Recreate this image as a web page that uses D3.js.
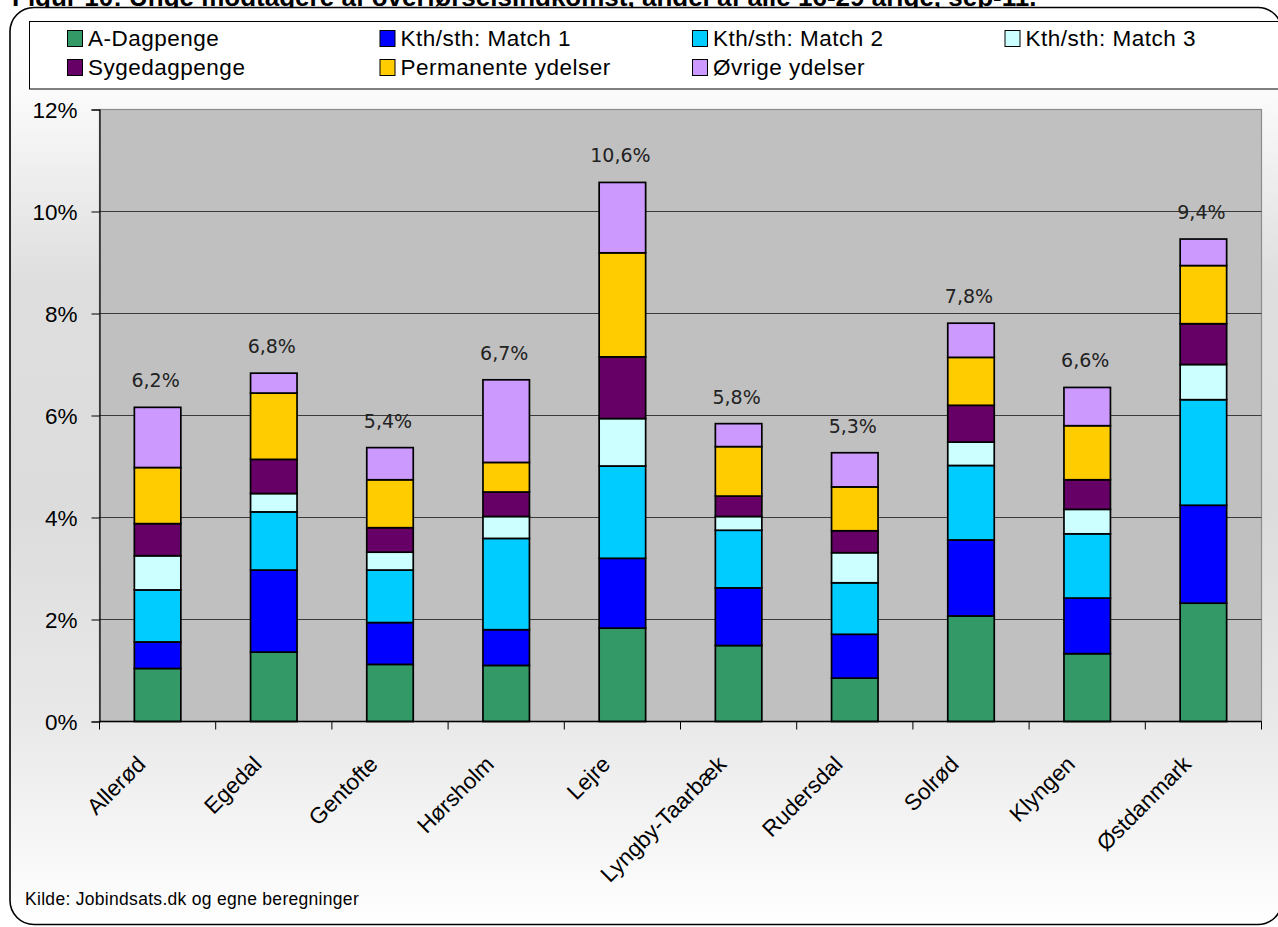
<!DOCTYPE html>
<html>
<head>
<meta charset="utf-8">
<script src="https://cdn.jsdelivr.net/npm/d3@7/dist/d3.min.js"></script>
<style>
  html, body { margin: 0; padding: 0; background: #ffffff; overflow: hidden; }
  svg { display: block; }
</style>
</head>
<body>
<svg id="chart" width="1278" height="927"></svg>
<script>
// ---------------- DATA ----------------
const titleText = "Figur 10: Unge modtagere af overførselsindkomst, andel af alle 16-29 årige, sep-11.";
const sourceText = "Kilde: Jobindsats.dk og egne beregninger";

const categories = ["Allerød", "Egedal", "Gentofte", "Hørsholm", "Lejre",
                    "Lyngby-Taarbæk", "Rudersdal", "Solrød", "Klyngen", "Østdanmark"];

const seriesNames = ["A-Dagpenge", "Kth/sth: Match 1", "Kth/sth: Match 2", "Kth/sth: Match 3",
                     "Sygedagpenge", "Permanente ydelser", "Øvrige ydelser"];

const aDagpenge   = [1.04, 1.36, 1.12, 1.10, 1.83, 1.49, 0.85, 2.07, 1.33, 2.32];
const match1      = [0.52, 1.61, 0.82, 0.70, 1.37, 1.13, 0.86, 1.49, 1.09, 1.92];
const match2      = [1.02, 1.14, 1.03, 1.79, 1.81, 1.13, 1.01, 1.46, 1.26, 2.07];
const match3      = [0.67, 0.36, 0.35, 0.43, 0.93, 0.27, 0.59, 0.46, 0.48, 0.69];
const sygedagpenge= [0.63, 0.67, 0.48, 0.48, 1.21, 0.40, 0.43, 0.72, 0.58, 0.80];
const permanente  = [1.10, 1.30, 0.94, 0.58, 2.04, 0.97, 0.86, 0.94, 1.06, 1.14];
const ovrige      = [1.18, 0.39, 0.63, 1.62, 1.38, 0.45, 0.67, 0.67, 0.75, 0.52];

const totalLabels = ["6,2%", "6,8%", "5,4%", "6,7%", "10,6%", "5,8%", "5,3%", "7,8%", "6,6%", "9,4%"];

const yTicks = [0, 2, 4, 6, 8, 10, 12];
const yTickLabels = ["0%", "2%", "4%", "6%", "8%", "10%", "12%"];

const seriesColors = ["#339966", "#0000FF", "#00CCFF", "#CCFFFF", "#660066", "#FFCC00", "#CC99FF"];

// ---------------- BUILD TABLE ----------------
const seriesValues = [aDagpenge, match1, match2, match3, sygedagpenge, permanente, ovrige];
const table = categories.map((c, i) => {
  const row = { cat: c };
  seriesNames.forEach((s, j) => row[s] = seriesValues[j][i]);
  return row;
});
const stacked = d3.stack().keys(seriesNames)(table);

// ---------------- LAYOUT ----------------
const svg = d3.select("#chart");
const plot = { left: 99.5, right: 1261.5, top: 109.5, bottom: 721.5 };
const FONT = "'Liberation Sans', Arial, sans-serif";

const defs = svg.append("defs");
const grad = defs.append("linearGradient").attr("id", "bgGrad")
  .attr("x1", 0).attr("y1", 0).attr("x2", 0).attr("y2", 1);
[[0, "#ffffff"], [0.09, "#fbfbfb"], [0.3, "#dedede"], [0.55, "#dcdcdc"], [0.78, "#e9e9e9"], [1, "#ffffff"]]
  .forEach(([o, c]) => grad.append("stop").attr("offset", o).attr("stop-color", c));

// Title (partially cut off at top, as in the reference)
svg.append("text")
  .attr("x", 12).attr("y", 6)
  .attr("font-family", FONT).attr("font-weight", "bold").attr("font-size", 26)
  .attr("fill", "#000")
  .text(titleText);

// Outer rounded frame
svg.append("rect")
  .attr("x", 10).attr("y", 7.5).attr("width", 1272).attr("height", 917)
  .attr("rx", 24).attr("ry", 24)
  .attr("fill", "url(#bgGrad)").attr("stroke", "#000").attr("stroke-width", 1.6);

// Legend box
svg.append("rect")
  .attr("x", 29.5).attr("y", 21.5).attr("width", 1260).attr("height", 67.5)
  .attr("fill", "#ffffff").attr("stroke", "#000").attr("stroke-width", 1);

const legendColX = [67, 379.5, 692, 1004.5];
const legendPos = seriesNames.map((s, i) => i < 4 ? { col: i, row: 0 } : { col: i - 4, row: 1 });
const legend = svg.append("g");
seriesNames.forEach((s, i) => {
  const p = legendPos[i];
  const gx = legendColX[p.col], gy = p.row === 0 ? 30.5 : 59.5;
  legend.append("rect")
    .attr("x", gx + 0.5).attr("y", gy).attr("width", 15).attr("height", 16)
    .attr("fill", seriesColors[i]).attr("stroke", "#000").attr("stroke-width", 1);
  legend.append("text")
    .attr("x", gx + 21).attr("y", gy + 15)
    .attr("font-family", FONT).attr("font-size", 22.5).attr("letter-spacing", 0.5)
    .attr("fill", "#000")
    .text(s);
});

// Scales
const x = d3.scaleBand().domain(categories)
  .range([plot.left, plot.right]).paddingInner(0.6).paddingOuter(0.3);
const y = d3.scaleLinear().domain([0, 12]).range([plot.bottom, plot.top]);

// Plot area background
svg.append("rect")
  .attr("x", plot.left).attr("y", plot.top)
  .attr("width", plot.right - plot.left).attr("height", plot.bottom - plot.top)
  .attr("fill", "#c0c0c0").attr("stroke", "#8c8c8c").attr("stroke-width", 1.2);

// Gridlines
svg.append("g").selectAll("line")
  .data(yTicks.filter(d => d > 0 && d < 12))
  .join("line")
  .attr("x1", plot.left).attr("x2", plot.right)
  .attr("y1", d => y(d)).attr("y2", d => y(d))
  .attr("stroke", "#3a3a3a").attr("stroke-width", 1);

// Bars
const groups = svg.append("g").selectAll("g")
  .data(stacked).join("g")
  .attr("fill", (d, i) => seriesColors[i]);
groups.selectAll("rect")
  .data(d => d).join("rect")
  .attr("x", d => x(d.data.cat))
  .attr("width", x.bandwidth())
  .attr("y", d => y(d[1]))
  .attr("height", d => y(d[0]) - y(d[1]))
  .attr("stroke", "#000").attr("stroke-width", 1.7);

// Value labels (totals)
const totals = categories.map((c, i) => d3.sum(seriesValues, s => s[i]));
svg.append("g").selectAll("text")
  .data(categories).join("text")
  .attr("x", d => x(d) + x.bandwidth() / 2 - 2)
  .attr("y", (d, i) => y(totals[i]) - 20)
  .attr("text-anchor", "middle")
  .attr("font-family", "'DejaVu Sans', Verdana, sans-serif")
  .attr("font-size", 19)
  .attr("fill", "#222")
  .text((d, i) => totalLabels[i]);

// Y axis
const yAxis = d3.axisLeft(y).tickValues(yTicks)
  .tickFormat((d, i) => yTickLabels[i]).tickSize(8).tickPadding(14);
const yg = svg.append("g").attr("transform", `translate(${plot.left},0)`).call(yAxis);
yg.select(".domain").attr("stroke", "#000").attr("stroke-width", 1.2);
yg.selectAll(".tick line").attr("stroke", "#000").attr("stroke-width", 1);
yg.selectAll(".tick text")
  .attr("font-family", FONT).attr("font-size", 22.5).attr("fill", "#000")
  .attr("dy", "0.36em");

// X axis line + boundary ticks
const xg = svg.append("g");
xg.append("line")
  .attr("x1", plot.left).attr("x2", plot.right)
  .attr("y1", plot.bottom).attr("y2", plot.bottom)
  .attr("stroke", "#000").attr("stroke-width", 1.4);
const boundaries = categories.map(c => x(c) - (x.step() - x.bandwidth()) / 2)
  .concat([x(categories[categories.length - 1]) + x.bandwidth() + (x.step() - x.bandwidth()) / 2]);
xg.selectAll("line.tk").data(boundaries).join("line").attr("class", "tk")
  .attr("x1", d => d).attr("x2", d => d)
  .attr("y1", plot.bottom).attr("y2", plot.bottom + 8)
  .attr("stroke", "#000").attr("stroke-width", 1);

// X labels rotated
xg.selectAll("text").data(categories).join("text")
  .attr("transform", d => `translate(${x(d) + x.bandwidth() / 2 - 22},${plot.bottom + 33}) rotate(-45)`)
  .attr("text-anchor", "end")
  .attr("font-family", FONT).attr("font-size", 22.5)
  .attr("fill", "#000")
  .attr("dy", "0.7em")
  .text(d => d);

// Source
svg.append("text")
  .attr("x", 25).attr("y", 905)
  .attr("font-family", FONT).attr("font-size", 17.5).attr("letter-spacing", 0.3)
  .attr("fill", "#000")
  .text(sourceText);
</script>
</body>
</html>
